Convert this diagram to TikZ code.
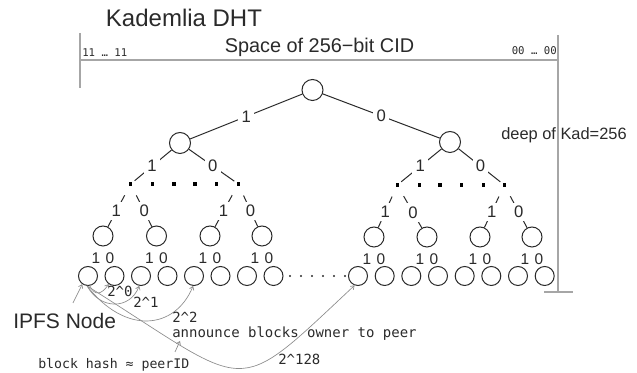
\documentclass[tikz,border=0pt]{standalone}
\usepackage{fontspec}
\setmainfont{Liberation Sans}
\setmonofont{DejaVu Sans Mono}
\usetikzlibrary{arrows.meta,positioning}

\definecolor{inkgray}{HTML}{2A2A2A}
\definecolor{framegray}{HTML}{A6A6A6}
\definecolor{hopgray}{HTML}{8C8C8C}

\tikzset{
  kad/.style={circle, draw=inkgray, line width=0.75pt, inner sep=0pt, minimum size=15.75pt},
  kadmid/.style={kad, minimum size=15pt},
  leaf/.style={kad, minimum size=14.25pt},
  bit/.style={fill=white, inner sep=2.5pt, text=inkgray, font=\fontsize{12.5}{13}\selectfont},
  pairbits/.style={inner sep=0pt, text=inkgray, font=\fontsize{11.6}{12}\selectfont},
  gapdot/.style={fill=black, inner sep=0pt, minimum size=2.4pt},
  edge/.style={draw=inkgray, line width=0.75pt},
  frame/.style={draw=framegray, line width=1pt},
  hop/.style={draw=hopgray, line width=0.5pt, -{Straight Barb[length=2.5pt,width=3.5pt]}},
  code/.style={inner sep=0pt, anchor=base west, text=inkgray, font=\ttfamily\fontsize{10.5}{12}\selectfont},
}

\begin{document}
\begin{tikzpicture}[x=0.75pt, y=-0.75pt]
  \useasboundingbox (0,0) rectangle (637,373);

  % id space and depth
  \draw[frame] (80,33) -- (80,88);
  \draw[frame] (80,60) -- (558,60);
  \draw[frame] (558,35) -- (558,292);
  \draw[frame] (544,292) -- (573,292);

  \node[anchor=base, inner sep=0pt, text=inkgray, font=\fontsize{18}{20}\selectfont] (title) at (184,27) {Kademlia DHT};
  \node[anchor=base, inner sep=0pt, text=inkgray, font=\fontsize{14.9}{17}\selectfont] (space) at (319.5,53) {Space of 256−bit CID};
  \node[anchor=base west, inner sep=0pt, text=inkgray, font=\ttfamily\fontsize{8}{9}\selectfont] (highbits) at (82,57) {11 … 11};
  \node[anchor=base east, inner sep=0pt, text=inkgray, font=\ttfamily\fontsize{8}{9}\selectfont] (lowbits) at (557,55) {00 … 00};
  \node[anchor=base west, inner sep=0pt, text=inkgray, font=\fontsize{12.3}{14}\selectfont] (depth) at (501,140) {deep of Kad=256};

  % top of the tree
  \node[kad] (root) at (312.5,90) {};
  \node[kad] (n1) at (180,143) {};
  \node[kad] (n0) at (450,142) {};
  \draw[edge] (root) -- node[bit] {1} (n1);
  \draw[edge] (root) -- node[bit] {0} (n0);

  % the levels left out
  \foreach \x [count=\i] in {130.7,152.7,174,195,216.7,238.3}
    \node[gapdot] (a\i) at (\x,184) {};
  \foreach \x [count=\i] in {397.3,419.3,440,461.7,483.3,504.3}
    \node[gapdot] (b\i) at (\x,185) {};
  \draw[edge, shorten >=2pt] (n1) -- node[bit] {1} (a1);
  \draw[edge, shorten >=2pt] (n1) -- node[bit] {0} (a6);
  \draw[edge, shorten >=2pt] (n0) -- node[bit] {1} (b1);
  \draw[edge, shorten >=2pt] (n0) -- node[bit] {0} (b6);

  % last inner level
  \node[kadmid] (c1) at (103,236) {};
  \node[kadmid] (c2) at (156.5,236) {};
  \node[kadmid] (c3) at (210,236) {};
  \node[kadmid] (c4) at (262,236) {};
  \node[kadmid] (c5) at (374,237) {};
  \node[kadmid] (c6) at (427,237) {};
  \node[kadmid] (c7) at (480,237) {};
  \node[kadmid] (c8) at (532,237) {};
  \draw[edge, shorten <=8pt] (a1) -- node[bit, pos=0.62] {1} (c1);
  \draw[edge, shorten <=8pt] (a1) -- node[bit, pos=0.62] {0} (c2);
  \draw[edge, shorten <=8pt] (a6) -- node[bit, pos=0.62] {1} (c3);
  \draw[edge, shorten <=8pt] (a6) -- node[bit, pos=0.62] {0} (c4);
  \draw[edge, shorten <=8pt] (b1) -- node[bit, pos=0.62] {1} (c5);
  \draw[edge, shorten <=8pt] (b1) -- node[bit, pos=0.62] {0} (c6);
  \draw[edge, shorten <=8pt] (b6) -- node[bit, pos=0.62] {1} (c7);
  \draw[edge, shorten <=8pt] (b6) -- node[bit, pos=0.62] {0} (c8);
  \foreach \i in {1,...,8}
    \node[pairbits, below=4.4pt of c\i] (p\i) {1\kern4pt0};

  % leaves
  \foreach \x [count=\i] in {88,114.5,141,167.5,194,220.5,247,273.5,358,384.7,411.3,438,464.7,491.3,518,544.7}
    \node[leaf] (l\i) at (\x,276) {};
  \foreach \x in {290,301,312,323,334,345}
    \fill[inkgray] (\x,276) circle (0.8pt);

  % routing from one node
  \node[anchor=base west, inner sep=0pt, text=inkgray, font=\fontsize{15.75}{18}\selectfont] (ipfs) at (13,329) {IPFS Node};
  \coordinate (ipfstail) at (73,303);
  \draw[hop] (ipfstail) -- (l1.-125);

  \draw[hop] (l1.-80) .. controls (95,296) and (101,295) .. (l2.-125);
  \draw[hop] (l1.-95) .. controls (100,310) and (130,310) .. (l3.-100);
  \draw[hop] (l1.-95) .. controls (125,335) and (175,330) .. (l5.-95);
  \draw[hop] (l1.-95) .. controls (254,391) and (231,401) .. (l9.-110);

  \node[code] (hop0) at (107,297) {2\textasciicircum0};
  \node[code] (hop1) at (133,308) {2\textasciicircum1};
  \node[code] (hop2) at (172,323) {2\textasciicircum2};
  \node[code] (announce) at (172,338) {announce blocks owner to peer};
  \node[code] (hop128) at (278,365) {2\textasciicircum128};
  \node[code, font=\ttfamily\fontsize{9.9}{12}\selectfont] (hash) at (38,369) {block hash ≈ peerID};
  \coordinate (hashtail) at (175,352);
  \coordinate (hashtip) at (180,341);
  \draw[hop] (hashtail) -- (hashtip);
\end{tikzpicture}
\end{document}
